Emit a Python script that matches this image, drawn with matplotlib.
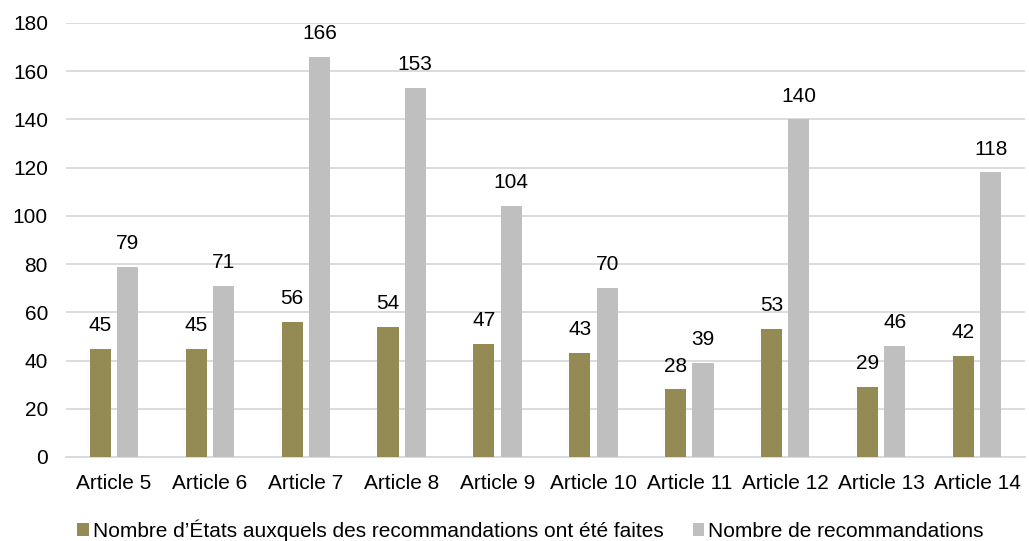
import numpy as np
import matplotlib.pyplot as plt

plt.rcParams['font.family'] = ['Liberation Sans', 'DejaVu Sans']

articles = ['Article 5', 'Article 6', 'Article 7', 'Article 8', 'Article 9',
            'Article 10', 'Article 11', 'Article 12', 'Article 13', 'Article 14']
nb_etats = [45, 45, 56, 54, 47, 43, 28, 53, 29, 42]
nb_recommandations = [79, 71, 166, 153, 104, 70, 39, 140, 46, 118]

label_etats = "Nombre d\u2019\u00c9tats auxquels des recommandations ont \u00e9t\u00e9 faites"
label_reco = "Nombre de recommandations"

fig = plt.figure(figsize=(10.29, 5.41), dpi=100)
ax = fig.add_axes([66 / 1029, 1 - 457 / 541, (1025 - 66) / 1029, (457 - 23) / 541])

x = np.arange(len(articles))
w = 0.22
b1 = ax.bar(x - 0.142, nb_etats, w, color='#948A54', label=label_etats, zorder=3)
b2 = ax.bar(x + 0.142, nb_recommandations, w, color='#BFBFBF', label=label_reco, zorder=3)

for bars in (b1, b2):
    ax.bar_label(bars, padding=10, fontsize=15, color='#000000')

ax.set_xlim(-0.5, len(articles) - 0.5)
ax.set_ylim(0, 180)
ax.set_yticks(range(0, 181, 20))
ax.set_xticks(x)
ax.set_xticklabels(articles)
ax.tick_params(axis='both', length=0, labelsize=15, colors='#000000')
ax.tick_params(axis='y', pad=13)
ax.tick_params(axis='x', pad=12)
ax.grid(axis='y', color='#D9D9D9', linewidth=1.3, zorder=0)
for s in ['top', 'right', 'left']:
    ax.spines[s].set_visible(False)
ax.spines['bottom'].set_color('#D9D9D9')
ax.spines['bottom'].set_linewidth(1.3)

fig.legend(loc='center', bbox_to_anchor=(0.5155, 11 / 541), ncol=2, frameon=False,
           fontsize=15, handlelength=0.55, handleheight=0.55, handletextpad=0.2,
           columnspacing=1.4, borderaxespad=0)

plt.savefig('out.png', dpi=100)
